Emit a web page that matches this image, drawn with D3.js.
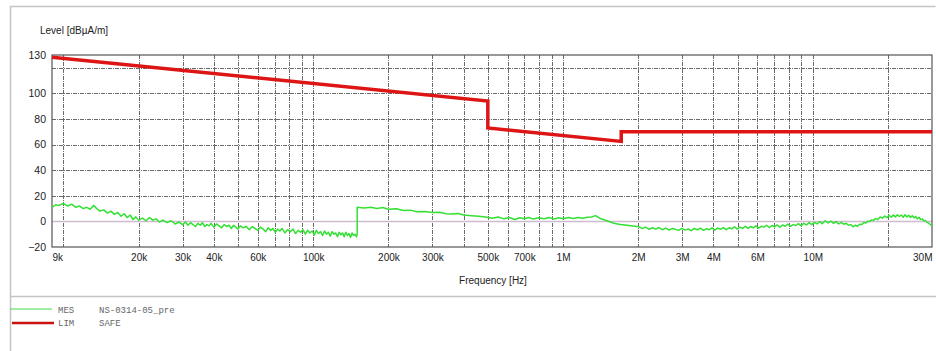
<!DOCTYPE html>
<html><head><meta charset="utf-8">
<script src="https://cdn.jsdelivr.net/npm/d3@7"></script>
<style>
html,body{margin:0;padding:0;background:#fff;}
svg{display:block;}
</style></head>
<body>
<svg id="c" width="936" height="351"></svg>
<script>
// ---- data ----
const xTickValues = [9e3,2e4,3e4,4e4,6e4,1e5,2e5,3e5,5e5,7e5,1e6,2e6,3e6,4e6,6e6,1e7,3e7];
const xTickLabels = ["9k","20k","30k","40k","60k","100k","200k","300k","500k","700k","1M","2M","3M","4M","6M","10M","30M"];
const xGridValues = [1e4,2e4,3e4,4e4,5e4,6e4,7e4,8e4,9e4,1e5,2e5,3e5,4e5,5e5,6e5,7e5,8e5,9e5,1e6,2e6,3e6,4e6,5e6,6e6,7e6,8e6,9e6,1e7,2e7];
const yTickValues = [130,100,80,60,40,20,0,-20];
const yGridValues = [120,100,80,60,40,20];

// limit line LIM SAFE (Hz, dBuA/m)
const limFreq  = [9e3, 5e5, 5e5, 1.71e6, 1.71e6, 3e7];
const limLevel = [128.2, 94, 73, 62.5, 70, 70];

// measurement MES NS-0314-05_pre (frequency in kHz, level in dBuA/m)
const mesFreqKHz = [
 9.0,9.3,9.6,10.0,10.4,10.8,11.2,11.6,12.0,12.4,12.8,13.2,13.6,14.0,14.5,15.0,15.5,16.0,16.5,17.0,17.5,18.0,18.5,19.0,19.5,20.0,20.7,21.4,22.1,22.8,23.5,24.2,25,26,27,28,29,
 30,30.8,31.5,32.3,33,33.8,34.5,35.3,36,36.8,37.5,38.3,39,40,41,42,43,44,45,46,47,48,49,50,51,52.5,54,55.5,57,58.5,60,61.5,63,64.5,66,67.5,69,70.5,72,73.5,75,77,79,81,83,85,87,89,91,93,95,97,99,101,103,105,107,109,111,113,115,117,119,121,123,125,127,129,131,133,135,137,139,141,143,145,147,149,150,
 150,160,170,180,190,200,215,230,245,260,280,300,320,340,360,380,400,430,460,490,520,550,580,610,640,670,700,730,760,800,840,880,920,960,1000,1050,1100,1150,1200,1250,1300,1350,1400,1450,1500,1550,1600,1650,1700,1800,1900,
 2000,2070,2140,2210,2280,2350,2420,2500,2580,2660,2740,2820,2900,2990,3080,3170,3260,3350,3450,3550,3650,3750,3850,3950,4050,4160,4270,4380,4500,4620,4740,4860,4980,5110,5240,5370,5500,5640,5780,5920,6070,6220,6370,6530,6690,6860,7030,7200,7380,7560,7750,7940,8140,8340,8550,8760,8980,9200,9430,9660,9900,10150,10400,10650,10900,11200,11500,11800,12100,12400,12700,13000,13300,13600,13900,14200,14500,14800,15100,15400,15700,16000,16300,16600,16900,17200,17500,17800,18200,18600,19000,19400,19800,20200,20600,21000,21400,21800,22200,22600,23000,23400,23800,24200,24600,25000,25400,25800,26200,26600,27000,27400,27800,28200,28600,29000,29400,29800,30000
];
const mesLevel = [
 11,13,12.5,14,12,13.5,11,12,10,11,9.5,12.5,10,8,9,6.5,8,5.5,7,4,6,3,5,1.5,3.5,1,2.5,0.5,3,1,2,-0.5,1,-1,0.5,-2,-0.5,
 -2.5,-0.5,-3,-1,-2.5,-4,-1.5,-3,-1,-4,-2.5,-3.5,-1.5,-4.5,-2,-3.5,-5,-2.5,-4,-3,-5.5,-3,-4.5,-6,-3.5,-5,-4,-6.5,-4,-5.5,-7,-4.5,-6,-8,-5,-7,-5.5,-8.5,-6,-7.5,-5.5,-9,-6.5,-8,-6,-9.5,-7,-8.5,-6.5,-10,-7,-9,-7.5,-10.5,-7,-9.5,-8,-11,-7.5,-10,-8.5,-11.5,-8,-10,-9,-12,-8.5,-10.5,-9,-12,-8.5,-11,-9.5,-12.5,-9,-11,-10,-12,-9.5,
 11,10.5,11,10,10.8,9.5,9.8,8.5,8.8,7.5,7.8,7,7.2,6,5.8,6.2,5,4.5,4,3.5,2.5,3.5,2,3,1.5,2.8,2,3,1.8,2.8,2,3,1.8,2.8,2,3,2.2,3,2.5,3.2,3.5,4.5,2.5,1.5,0.5,-0.5,-1.5,-2,-2.5,-3,-3.5,
 -4,-5.5,-4.5,-6.2,-5,-6,-4.8,-6.5,-5.2,-6.8,-5.5,-6.2,-7,-5.5,-6.8,-5.8,-7.2,-5.5,-6.5,-5.2,-7,-5.8,-6.5,-5,-6.8,-5.2,-6.2,-4.8,-6.5,-5,-5.8,-4.2,-6,-4.5,-5.5,-3.8,-5.5,-4,-5,-3.5,-5.2,-3.8,-4.5,-3,-4.8,-3.2,-4.2,-2.8,-4.5,-2.8,-3.8,-2.2,-3.8,-2.5,-3.2,-1.8,-3.5,-1.5,-2.8,-1,-2.5,-0.8,-2,-0.2,-1.8,0.5,-1.2,0.2,-1.5,-0.2,-2,-0.8,-2.2,-1.5,-3,-2.5,-4.2,-3,-3.8,-2.2,-2.5,-0.8,-1.2,0.2,0,1.2,0.8,2.2,1.5,3.5,2.5,4.2,3,4.8,3.2,5,3.5,5.2,3.8,5,3.2,5.2,3.5,4.8,3,4.5,2.8,3.8,2,3.2,1.5,2,0.5,0.8,-0.8,-1,-2.2,-3,-4
];

// ---- drawing ----
const svg = d3.select("#c");
const x = d3.scaleLog().domain([9e3,3e7]).range([52,932]);
const y = d3.scaleLinear().domain([-20,130]).range([247,55]);

// outer frame
svg.append("path").attr("d","M10.5,351 V6.5 H935.5")
  .attr("fill","none").attr("stroke","#c4c4c4").attr("stroke-width",1.5);
svg.append("line").attr("x1",10).attr("x2",936).attr("y1",296.5).attr("y2",296.5)
  .attr("stroke","#c4c4c4").attr("stroke-width",1.5);

// title
svg.append("text").attr("x",40).attr("y",34).text("Level [dBµA/m]")
  .attr("font-family","Liberation Sans, Arial, sans-serif").attr("font-size",10).attr("fill","#222");

// grid
const g = svg.append("g");
g.selectAll("line.vg").data(xGridValues).join("line").attr("class","vg")
  .attr("x1",d=>Math.round(x(d))+0.5).attr("x2",d=>Math.round(x(d))+0.5)
  .attr("y1",y(130)).attr("y2",y(-20))
  .attr("stroke","#6a6a6a").attr("stroke-width",1).attr("stroke-dasharray","4,1,1,1");
g.selectAll("line.hg").data(yGridValues).join("line").attr("class","hg")
  .attr("x1",x(9e3)).attr("x2",x(3e7))
  .attr("y1",d=>Math.round(y(d))+0.5).attr("y2",d=>Math.round(y(d))+0.5)
  .attr("stroke","#6a6a6a").attr("stroke-width",1).attr("stroke-dasharray","4,1,1,1");
g.append("line").attr("x1",x(9e3)).attr("x2",x(3e7))
  .attr("y1",Math.round(y(0))+0.5).attr("y2",Math.round(y(0))+0.5)
  .attr("stroke","#cdbccd").attr("stroke-width",1.5);

// plot border
svg.append("rect").attr("x",x(9e3)).attr("y",y(130)).attr("width",x(3e7)-x(9e3)).attr("height",y(-20)-y(130))
  .attr("fill","none").attr("stroke","#555").attr("stroke-width",1.2);

// axes
const xa = svg.append("g").attr("transform",`translate(0,${y(-20)+4})`)
  .call(d3.axisBottom(x).tickValues(xTickValues).tickSize(0).tickFormat((d,i)=>xTickLabels[i]));
xa.select(".domain").remove();
xa.selectAll("text").attr("font-family","Liberation Sans, Arial, sans-serif").attr("font-size",10).attr("fill","#222")
  .attr("text-anchor",(d,i)=> i===0 ? "start" : (i===xTickLabels.length-1 ? "end" : "middle"));

const ya = svg.append("g").attr("transform",`translate(${x(9e3)-3},0)`)
  .call(d3.axisLeft(y).tickValues(yTickValues).tickSize(0).tickFormat(d3.format("d")));
ya.select(".domain").remove();
ya.selectAll("text").attr("font-family","Liberation Sans, Arial, sans-serif").attr("font-size",10.5).attr("fill","#222");

svg.append("text").attr("x",493).attr("y",284).attr("text-anchor","middle").text("Frequency [Hz]")
  .attr("font-family","Liberation Sans, Arial, sans-serif").attr("font-size",10).attr("fill","#222");

// measurement line
const mes = mesFreqKHz.map((f,i)=>[f*1000, mesLevel[i]]);
svg.append("path").datum(mes)
  .attr("d", d3.line().x(d=>x(d[0])).y(d=>y(d[1])))
  .attr("fill","none").attr("stroke","#33e033").attr("stroke-width",1.5).attr("stroke-linejoin","round");

// limit line
const lim = limFreq.map((f,i)=>[f, limLevel[i]]);
svg.append("path").datum(lim)
  .attr("d", d3.line().x(d=>x(d[0])).y(d=>y(d[1])))
  .attr("fill","none").attr("stroke","#dd1515").attr("stroke-width",3.5).attr("stroke-linejoin","miter");

// legend
const legFont = "Liberation Mono, Courier New, monospace";
svg.append("line").attr("x1",10).attr("x2",52).attr("y1",309).attr("y2",309).attr("stroke","#44dd44").attr("stroke-width",1);
svg.append("line").attr("x1",12).attr("x2",54).attr("y1",323).attr("y2",323).attr("stroke","#cc1111").attr("stroke-width",2.5);
const leg = [["MES","NS-0314-05_pre",312.5],["LIM","SAFE",326]];
leg.forEach(r=>{
  svg.append("text").attr("x",58).attr("y",r[2]).text(r[0]).attr("font-family",legFont).attr("font-size",9).attr("fill","#666");
  svg.append("text").attr("x",99).attr("y",r[2]).text(r[1]).attr("font-family",legFont).attr("font-size",9).attr("fill","#666");
});
</script>
</body></html>
